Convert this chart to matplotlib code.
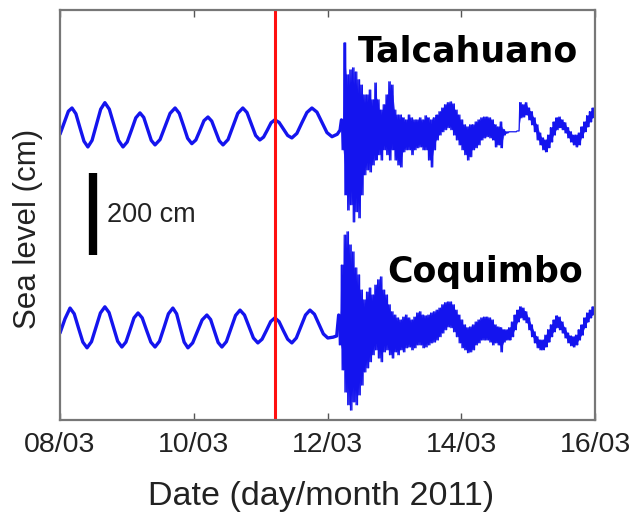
import numpy as np
import matplotlib.pyplot as plt

# time in hours since 08/03/2011 00:00 UTC, sea level in cm about each station's mean
quake_hour = 77.3
tick_hours = [0, 48, 96, 144, 192]
tick_labels = ["08/03", "10/03", "12/03", "14/03", "16/03"]

# Talcahuano, tide before the tsunami
tal_pre_t = [0, 1.5, 3.0, 4.3, 5.7, 7.15, 8.6, 10.0, 11.5, 13.05, 14.6, 16.1, 17.7, 19.35, 21.0,
             22.6, 24.1, 25.65, 27.2, 28.7, 30.05, 31.4, 32.75, 34.1, 35.9, 37.7, 39.5, 41.3, 42.8,
             44.3, 45.8, 47.3, 48.75, 50.2, 51.65, 53.1, 54.45, 55.8, 57.15, 58.5, 60.3, 62.05, 63.8,
             65.6, 67.1, 68.65, 70.2, 71.7, 73.05, 74.4, 75.75, 77.1, 78.6, 80.15, 81.7, 83.2, 85.0,
             86.8, 88.6, 90.4, 92.2, 94.0, 95.8, 97.6, 99.5, 100.5]
tal_pre_v = [-18, 10, 38, 46, 32, -2, -35, -49, -33, 5, 43, 59, 43, 5, -33, -49, -37, -8, 22, 34,
             23, -5, -33, -44, -31, 1, 33, 46, 33, 3, -28, -41, -32, -9, 15, 24, 14, -10, -34, -44,
             -31, 1, 33, 46, 35, 7, -21, -32, -25, -8, 10, 17, 11, -5, -21, -27, -16, 10, 35, 46,
             36, 11, -14, -24, -18, -8]

# Talcahuano after arrival: hourly upper / lower edge of the oscillation band, from hour 101
tal_post_start = 101
tal_post_hi = [17, 205, 127, 139, 144, 134, 115, 102, 78, 78, 90, 66, 107, 66, 41, 54, 78, 110, 102,
               41, 29, 29, 22, 17, 29, 22, 17, 17, 22, 17, 27, 22, 17, 22, 29, 37, 46, 54, 59, 61,
               56, 41, 29, 17, 5, 0, 5, 5, 12, 17, 22, 24, 24, 22, 17, 5, 0, 12, -7, -12, -12, -12,
               -12, -10, 59, 54, 59, 46, 37, 22, 5, -15, -27, -32, -20, -2, 12, 22, 24, 17, 10, -2,
               -12, -20, -20, -15, 0, 12, 27, 37, 46, 54]
tal_post_lo = [-56, -166, -203, -190, -232, -207, -222, -166, -117, -105, -110, -93, -81, -68, -81,
               -56, -68, -81, -56, -81, -93, -98, -61, -56, -56, -68, -56, -51, -49, -56, -56, -81,
               -98, -56, -32, -20, -12, -7, -2, -7, -20, -32, -44, -56, -68, -81, -73, -56, -51, -44,
               -32, -27, -24, -27, -32, -49, -44, -51, -20, -15, -12, -12, -12, -10, 22, 24, 29, 17,
               5, -12, -32, -44, -56, -61, -51, -37, -20, -7, -2, -7, -15, -27, -37, -44, -49, -44,
               -27, -12, 0, 12, 22, 29]

# Coquimbo, tide before the tsunami
coq_pre_t = [0, 1.8, 3.6, 5.1, 6.65, 8.2, 9.7, 11.3, 12.9, 14.5, 16.1, 17.6, 19.15, 20.7, 22.2,
             23.65, 25.1, 26.55, 28.0, 29.5, 31.05, 32.6, 34.1, 35.7, 37.3, 38.9, 40.5, 41.85, 43.2,
             44.55, 45.9, 47.6, 49.3, 51.0, 52.7, 54.05, 55.4, 56.75, 58.1, 59.7, 61.35, 63.0, 64.6,
             66.2, 67.8, 69.4, 71.0, 72.5, 74.05, 75.6, 77.1, 78.6, 80.15, 81.7, 83.2, 84.8, 86.45,
             88.1, 89.7, 91.3, 92.9, 94.5, 96.1, 98.0, 99.3]
coq_pre_v = [-15, 20, 46, 32, -3, -37, -51, -36, -1, 34, 49, 35, 0, -35, -49, -37, -8, 22, 34, 22,
             -8, -37, -49, -35, -2, 32, 46, 32, -3, -37, -51, -39, -11, 17, 29, 18, -10, -38, -49,
             -36, -4, 28, 41, 29, 1, -27, -39, -30, -9, 13, 22, 13, -9, -30, -39, -27, 1, 29, 41,
             31, 7, -17, -27, -25, -22]

# Coquimbo after arrival: hourly upper / lower edge, from hour 100
coq_post_start = 100
coq_post_hi = [29, 151, 224, 232, 200, 183, 144, 127, 90, 66, 85, 95, 78, 102, 115, 122, 90, 78, 54,
               37, 29, 22, 17, 24, 29, 22, 17, 24, 34, 37, 29, 27, 29, 34, 37, 41, 46, 54, 59, 61,
               61, 54, 41, 29, 17, 5, -2, 0, 5, 12, 17, 22, 24, 24, 22, 17, 5, 0, -2, -7, -7, -2,
               12, 29, 41, 49, 46, 37, 22, 5, -12, -24, -32, -32, -20, -7, 5, 17, 27, 24, 12, -2,
               -15, -22, -24, -20, -7, 5, 22, 34, 41, 49, 51]
coq_post_lo = [-44, -105, -159, -190, -203, -183, -190, -166, -142, -110, -100, -85, -68, -56, -76,
               -85, -61, -56, -68, -76, -61, -68, -56, -61, -51, -49, -56, -51, -44, -44, -51, -49,
               -44, -39, -37, -32, -24, -15, -7, 0, -2, -12, -24, -39, -51, -56, -63, -61, -56, -44,
               -39, -32, -32, -32, -37, -44, -39, -44, -61, -37, -32, -32, -24, -7, 12, 22, 17, 10,
               -7, -24, -39, -51, -56, -56, -49, -37, -24, -12, -2, -7, -15, -27, -39, -46, -49,
               -44, -32, -20, -2, 12, 22, 29, 32]

tal_offset = 488        # vertical shift of the upper record
scale_bar = (176, 376)  # 200 cm bar
scale_bar_hour = 12.0

blue = '#1414ee'


def build_trace(pre_t, pre_v, start, hi, lo):
    # dense record drawn as a line bouncing between the band edges
    t = list(pre_t)
    v = list(pre_v)
    for i, (h, l) in enumerate(zip(hi, lo)):
        t += [start + i, start + i + 0.25, start + i + 0.5, start + i + 0.75]
        v += [h, l, h, l]
    return np.array(t), np.array(v, dtype=float)


plt.rcParams['font.family'] = ['Liberation Sans', 'DejaVu Sans']

fig = plt.figure(figsize=(6.31, 5.19), dpi=100)
ax = fig.add_axes([0.0951, 0.1908, 0.8479, 0.7899])

for pre_t, pre_v, start, hi, lo, off, fa in [
        (tal_pre_t, tal_pre_v, tal_post_start, tal_post_hi, tal_post_lo, tal_offset, 0.75),
        (coq_pre_t, coq_pre_v, coq_post_start, coq_post_hi, coq_post_lo, 0, 0.95)]:
    t, v = build_trace(pre_t, pre_v, start, hi, lo)
    n_pre = len(pre_t)
    ax.plot(t[:n_pre + 1], v[:n_pre + 1] + off, color=blue, lw=2.4, solid_capstyle='round')
    ax.plot(t[n_pre:], v[n_pre:] + off, color=blue, lw=0.9)
    th = start + np.arange(len(hi)) + 0.4
    hi_a = np.array(hi, dtype=float)
    lo_a = np.array(lo, dtype=float)
    mid = (hi_a + lo_a) / 2
    ax.fill_between(th, mid + (hi_a - mid) * 0.7 + off, mid + (lo_a - mid) * 0.7 + off,
                    color=blue, alpha=fa, lw=0)

ax.axvline(quake_hour, color='#ff1010', lw=2.2)

ax.plot([scale_bar_hour, scale_bar_hour], scale_bar, color='black', lw=6, solid_capstyle='butt')
ax.text(17.0, 273, "200 cm", fontsize=19.5, va='center', ha='left', color='#222222')

ax.text(185.8, 647, "Talcahuano", fontsize=25, fontweight='bold', family='DejaVu Sans',
        ha='right', va='baseline', color='black')
ax.text(187.6, 110, "Coquimbo", fontsize=25, fontweight='bold', family='DejaVu Sans',
        ha='right', va='baseline', color='black')

ax.set_xlim(0, 192)
ax.set_ylim(-227, 773)
ax.set_xticks(tick_hours)
ax.set_xticklabels(tick_labels, fontsize=20.5, color='#222222')
ax.set_yticks([])
ax.tick_params(axis='x', direction='in', length=5, width=1, color='#555555', top=True, pad=9)
for s in ax.spines.values():
    s.set_color('#777777')
    s.set_linewidth(1.6)

ax.set_xlabel("Date (day/month 2011)", fontsize=24.5, color='#222222')
ax.xaxis.set_label_coords(0.488, -0.148)
ax.set_ylabel("Sea level (cm)", fontsize=22.5, color='#222222')
ax.yaxis.set_label_coords(-0.032, 0.466)

fig.savefig("out.png", dpi=100)
